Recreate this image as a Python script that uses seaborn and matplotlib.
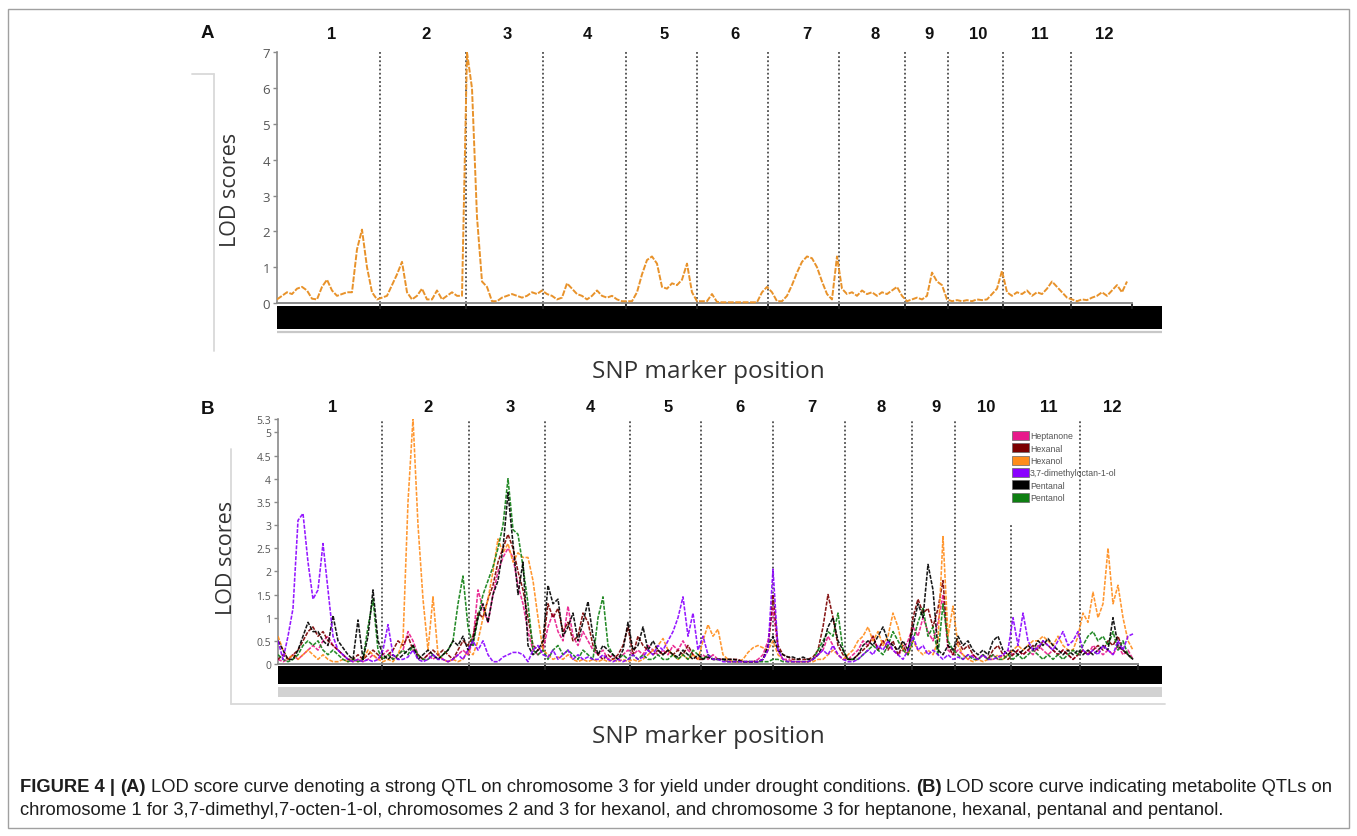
import numpy as np
import pandas as pd
import matplotlib
matplotlib.use("Agg")
import matplotlib.pyplot as plt
import seaborn as sns
from matplotlib import font_manager
from matplotlib.patches import Patch, Rectangle
from matplotlib.lines import Line2D
from matplotlib.transforms import blended_transform_factory

# ------------------------------------------------------------------ data
chromosomes = [str(i) for i in range(1, 13)]

# Panel A: LOD score for yield under drought, one value per marker index
a_bounds = [20.6, 37.8, 53.1, 69.8, 83.9, 98.2, 112.4, 125.6, 134.2, 145.2, 158.8]
a_yield_lod = [
    0.1, 0.2, 0.3, 0.25, 0.4, 0.45, 0.35, 0.12, 0.1, 0.45,
    0.65, 0.35, 0.2, 0.25, 0.3, 0.3, 1.5, 2.05, 1.0, 0.3,
    0.1, 0.15, 0.2, 0.5, 0.8, 1.15, 0.3, 0.1, 0.2, 0.4,
    0.1, 0.1, 0.35, 0.1, 0.2, 0.3, 0.2, 0.2, 7.0, 6.0,
    2.4, 0.6, 0.45, 0.05, 0.05, 0.15, 0.2, 0.25, 0.2, 0.15,
    0.2, 0.3, 0.25, 0.35, 0.25, 0.2, 0.1, 0.15, 0.55, 0.4,
    0.25, 0.2, 0.1, 0.2, 0.35, 0.2, 0.15, 0.2, 0.1, 0.05,
    0.05, 0.05, 0.3, 0.8, 1.2, 1.3, 1.1, 0.45, 0.4, 0.55,
    0.5, 0.65, 1.1, 0.3, 0.05, 0.05, 0.05, 0.25, 0.03, 0.02,
    0.02, 0.02, 0.02, 0.02, 0.02, 0.02, 0.02, 0.3, 0.45, 0.3,
    0.05, 0.05, 0.2, 0.5, 0.85, 1.15, 1.3, 1.25, 1.0, 0.6,
    0.25, 0.1, 1.3, 0.4, 0.25, 0.3, 0.2, 0.35, 0.25, 0.3,
    0.2, 0.3, 0.25, 0.35, 0.45, 0.2, 0.05, 0.1, 0.15, 0.1,
    0.2, 0.85, 0.6, 0.5, 0.1, 0.05, 0.08, 0.05, 0.08, 0.05,
    0.1, 0.08, 0.1, 0.25, 0.4, 0.9, 0.3, 0.2, 0.3, 0.25,
    0.35, 0.2, 0.3, 0.25, 0.4, 0.6, 0.45, 0.3, 0.15, 0.1,
    0.05, 0.1, 0.08, 0.15, 0.2, 0.3, 0.2, 0.35, 0.5, 0.3,
    0.6]
a_yticks = [0, 1, 2, 3, 4, 5, 6, 7]

# Panel B: metabolite LOD scores, one value per marker index
b_bounds = [20.7, 38.1, 53.4, 70.4, 84.6, 99.0, 113.4, 126.8, 135.4, 146.6, 160.4]
b_heptanone = [
    0.1, 0.05, 0.1, 0.2, 0.1, 0.2, 0.3, 0.4, 0.3, 0.5,
    0.6, 0.4, 0.3, 0.2, 0.1, 0.05, 0.1, 0.05, 0.1, 0.2,
    0.1, 0.2, 0.3, 0.1, 0.2, 0.3, 0.7, 0.5, 0.2, 0.1,
    0.2, 0.1, 0.2, 0.1, 0.05, 0.1, 0.2, 0.3, 0.2, 0.5,
    1.6, 1.2, 0.9, 1.5, 2.0, 2.3, 2.5, 2.3, 1.7, 1.3,
    0.7, 0.3, 0.2, 0.3, 0.8, 1.1, 0.7, 0.5, 1.25, 0.6,
    0.4, 0.7, 0.5, 0.3, 0.2, 0.3, 0.1, 0.2, 0.1, 0.2,
    0.3, 0.2, 0.3, 0.2, 0.4, 0.3, 0.2, 0.3, 0.2, 0.4,
    0.3, 0.5, 0.3, 0.2, 0.1, 0.2, 0.1, 0.2, 0.1, 0.1,
    0.05, 0.05, 0.05, 0.05, 0.05, 0.05, 0.1, 0.2, 0.5, 1.2,
    0.3, 0.1, 0.1, 0.05, 0.05, 0.05, 0.05, 0.1, 0.2, 0.3,
    0.6, 0.4, 0.2, 0.1, 0.1, 0.2, 0.3, 0.5, 0.4, 0.6,
    0.3, 0.5, 0.4, 0.3, 0.2, 0.3, 0.5, 0.8, 0.6, 1.0,
    0.7, 0.5, 0.9, 1.5, 0.3, 0.2, 0.3, 0.2, 0.1, 0.2,
    0.1, 0.2, 0.1, 0.2, 0.1, 0.2, 0.3, 0.2, 0.3, 0.2,
    0.3, 0.2, 0.4, 0.3, 0.2, 0.3, 0.2, 0.3, 0.2, 0.1,
    0.2, 0.3, 0.2, 0.4, 0.3, 0.2, 0.3, 0.2, 0.4, 0.2,
    0.3, 0.1]
b_hexanal = [
    0.1, 0.2, 0.1, 0.2, 0.3, 0.5, 0.7, 0.8, 0.6, 0.7,
    0.5, 0.4, 0.3, 0.2, 0.1, 0.1, 0.2, 0.1, 0.2, 0.3,
    0.2, 0.1, 0.2, 0.3, 0.5, 0.4, 0.6, 0.3, 0.2, 0.1,
    0.2, 0.3, 0.2, 0.3, 0.2, 0.1, 0.3, 0.5, 0.4, 0.6,
    1.1, 1.0, 1.4, 1.7, 2.2, 2.5, 2.8, 2.5, 2.0, 1.6,
    1.0, 0.4, 0.3, 0.4, 1.3, 1.0, 1.2, 0.7, 0.9, 0.5,
    0.6, 1.1, 0.9, 0.4, 0.2, 0.1, 0.2, 0.1, 0.2, 0.4,
    0.8, 0.2, 0.6, 0.4, 0.3, 0.2, 0.3, 0.2, 0.3, 0.2,
    0.3, 0.2, 0.4, 0.2, 0.1, 0.1, 0.2, 0.1, 0.1, 0.1,
    0.1, 0.1, 0.1, 0.05, 0.05, 0.05, 0.05, 0.1, 0.3, 1.5,
    0.4, 0.2, 0.15, 0.1, 0.1, 0.1, 0.1, 0.15, 0.3, 0.8,
    1.5, 1.0, 0.4, 0.2, 0.1, 0.1, 0.2, 0.3, 0.4, 0.6,
    0.3, 0.5, 0.3, 0.5, 0.2, 0.4, 0.2, 1.0, 1.4, 1.1,
    1.2, 0.8, 1.2, 1.8, 0.4, 0.2, 0.5, 0.3, 0.4, 0.2,
    0.1, 0.2, 0.1, 0.3, 0.4, 0.2, 0.1, 0.2, 0.3, 0.2,
    0.3, 0.4, 0.3, 0.5, 0.4, 0.3, 0.2, 0.3, 0.2, 0.1,
    0.2, 0.3, 0.2, 0.3, 0.4, 0.3, 0.5, 0.4, 0.6, 0.3,
    0.2, 0.1]
b_hexanol = [
    0.6, 0.3, 0.1, 0.2, 0.1, 0.2, 0.3, 0.2, 0.1, 0.2,
    0.1, 0.05, 0.05, 0.1, 0.05, 0.1, 0.05, 0.1, 0.3, 0.2,
    0.1, 0.05, 0.1, 0.05, 0.2, 0.5, 3.5, 5.3, 3.0, 1.4,
    0.3, 1.45, 0.2, 0.1, 0.05, 0.1, 0.05, 0.1, 0.3, 0.2,
    0.5, 1.0, 1.4, 2.0, 2.7, 2.4, 2.6, 2.2, 2.4, 2.3,
    2.3, 1.8, 1.0, 0.3, 0.2, 0.1, 0.15, 0.1, 0.2, 0.1,
    0.05, 0.1, 0.05, 0.1, 0.05, 0.1, 0.05, 0.1, 0.05, 0.1,
    0.05, 0.1, 0.05, 0.1, 0.2, 0.3, 0.4, 0.55, 0.3, 0.2,
    0.1, 0.2, 0.1, 0.2, 0.1, 0.5, 0.85, 0.6, 0.75, 0.2,
    0.1, 0.05, 0.05, 0.1, 0.25, 0.35, 0.4, 0.35, 0.3, 0.5,
    0.2, 0.1, 0.05, 0.05, 0.05, 0.05, 0.05, 0.05, 0.1, 0.1,
    0.2, 0.3, 0.2, 0.1, 0.2, 0.3, 0.5, 0.6, 0.8, 0.5,
    0.7, 0.4, 0.6, 1.1, 0.8, 0.3, 0.2, 0.5, 0.3, 0.2,
    0.3, 0.2, 0.5, 2.75, 0.6, 1.25, 0.4, 0.2, 0.1, 0.05,
    0.1, 0.05, 0.1, 0.1, 0.2, 0.1, 0.2, 0.3, 0.4, 0.3,
    0.4, 0.5, 0.5, 0.6, 0.5, 0.4, 0.6, 0.4, 0.3, 0.3,
    0.6, 1.1, 0.9, 1.55, 1.0, 1.3, 2.5, 1.3, 1.7, 1.0,
    0.5, 0.3]
b_dimethyloctenol = [
    0.5, 0.1, 0.6, 1.2, 3.1, 3.25, 2.2, 1.4, 1.6, 2.6,
    1.6, 0.6, 0.3, 0.2, 0.1, 0.05, 0.1, 0.05, 0.1, 0.05,
    0.1, 0.3, 0.85, 0.2, 0.1, 0.1, 0.15, 0.3, 0.1, 0.05,
    0.1, 0.2, 0.1, 0.1, 0.05, 0.1, 0.2, 0.1, 0.3, 0.5,
    0.3, 0.5, 0.2, 0.05, 0.05, 0.15, 0.2, 0.25, 0.25, 0.2,
    0.05, 0.3, 0.4, 0.2, 0.15, 0.3, 0.1, 0.2, 0.3, 0.1,
    0.2, 0.1, 0.15, 0.1, 0.1, 0.2, 0.1, 0.05, 0.1, 0.05,
    0.1, 0.2, 0.1, 0.15, 0.3, 0.2, 0.4, 0.3, 0.5, 0.7,
    1.0, 1.45, 0.6, 1.1, 0.3, 0.6, 0.2, 0.1, 0.1, 0.05,
    0.05, 0.05, 0.05, 0.05, 0.05, 0.05, 0.05, 0.1, 0.3, 2.05,
    0.3, 0.1, 0.05, 0.05, 0.05, 0.05, 0.05, 0.1, 0.2, 0.3,
    0.2, 0.4, 0.2, 0.1, 0.05, 0.05, 0.1, 0.2, 0.3, 0.2,
    0.4, 0.3, 0.5, 0.3, 0.2, 0.1, 0.3, 0.6, 0.3, 0.4,
    0.2, 0.3, 0.2, 0.1, 0.2, 0.1, 0.15, 0.1, 0.2, 0.15,
    0.1, 0.2, 0.1, 0.1, 0.15, 0.2, 0.3, 1.0, 0.4, 1.1,
    0.5, 0.3, 0.35, 0.5, 0.4, 0.3, 0.5, 0.7, 0.4, 0.5,
    0.7, 0.3, 0.2, 0.3, 0.2, 0.4, 0.3, 0.2, 0.5, 0.3,
    0.6, 0.65]
b_pentanal = [
    0.5, 0.3, 0.1, 0.1, 0.3, 0.6, 0.9, 0.7, 0.7, 0.5,
    0.4, 1.05, 0.5, 0.35, 0.2, 0.1, 0.95, 0.1, 0.6, 1.6,
    0.5, 0.2, 0.1, 0.2, 0.1, 0.2, 0.3, 0.4, 0.1, 0.2,
    0.3, 0.2, 0.1, 0.2, 0.3, 0.5, 0.4, 0.6, 0.3, 0.5,
    1.0, 1.3, 0.9, 1.5, 1.8, 2.5, 3.7, 2.6, 1.5, 2.2,
    0.4, 0.2, 0.3, 0.5, 1.7, 1.3, 1.4, 0.6, 0.8, 1.1,
    0.5, 0.9, 1.35, 0.6, 0.2, 0.4, 0.3, 0.2, 0.1, 0.3,
    0.9, 0.3, 0.4, 0.8, 0.3, 0.5, 0.3, 0.2, 0.3, 0.2,
    0.15, 0.3, 0.2, 0.1, 0.2, 0.1, 0.15, 0.1, 0.1, 0.1,
    0.1, 0.1, 0.08, 0.05, 0.05, 0.05, 0.05, 0.1, 0.4, 0.6,
    0.3, 0.2, 0.15, 0.15, 0.1, 0.15, 0.1, 0.1, 0.2, 0.4,
    0.8, 1.0, 0.5, 0.3, 0.1, 0.1, 0.2, 0.4, 0.5, 0.4,
    0.6, 0.8, 0.5, 0.4, 0.3, 0.5, 0.3, 0.8, 1.3, 1.0,
    2.15, 1.6, 0.3, 0.2, 0.4, 0.3, 0.6, 0.4, 0.5, 0.3,
    0.2, 0.3, 0.2, 0.5, 0.6, 0.3, 0.2, 0.3, 0.2, 0.3,
    0.4, 0.3, 0.5, 0.4, 0.55, 0.4, 0.3, 0.2, 0.3, 0.2,
    0.3, 0.2, 0.3, 0.2, 0.3, 0.4, 0.3, 1.0, 0.4, 0.3,
    0.2, 0.1]
b_pentanol = [
    0.2, 0.1, 0.05, 0.1, 0.2, 0.4, 0.5, 0.4, 0.5, 0.3,
    0.2, 0.3, 0.2, 0.1, 0.05, 0.1, 0.05, 0.1, 0.8, 1.4,
    0.3, 0.1, 0.2, 0.1, 0.2, 0.3, 0.2, 0.4, 0.2, 0.1,
    0.1, 0.2, 0.1, 0.2, 0.3, 0.5, 1.3, 1.9, 0.8, 0.4,
    1.0, 1.5, 1.8, 2.1, 2.5, 3.0, 4.0, 2.9, 2.8, 2.1,
    1.3, 0.3, 0.2, 0.3, 0.1, 0.3, 0.4, 0.2, 0.3, 0.2,
    0.1, 0.3, 0.2, 0.1, 1.0, 1.45, 0.4, 0.2, 0.1, 0.2,
    0.1, 0.2, 0.1, 0.2, 0.1, 0.1, 0.2, 0.1, 0.1, 0.2,
    0.1, 0.2, 0.1, 0.3, 0.2, 0.1, 0.2, 0.1, 0.1, 0.1,
    0.05, 0.05, 0.05, 0.05, 0.05, 0.05, 0.05, 0.05, 0.05, 0.1,
    0.1, 0.05, 0.05, 0.05, 0.05, 0.05, 0.05, 0.1, 0.3, 0.5,
    0.7, 0.6, 1.1, 0.3, 0.1, 0.1, 0.1, 0.2, 0.3, 0.4,
    0.3, 0.2, 0.4, 0.7, 0.5, 0.3, 0.2, 0.5, 0.9, 1.2,
    0.6, 0.8, 0.2, 1.3, 0.5, 0.3, 0.2, 0.1, 0.2, 0.1,
    0.1, 0.2, 0.1, 0.2, 0.1, 0.1, 0.2, 0.1, 0.2, 0.1,
    0.2, 0.3, 0.2, 0.1, 0.2, 0.1, 0.2, 0.1, 0.2, 0.3,
    0.2, 0.4, 0.6, 0.7, 0.5, 0.6, 0.4, 0.7, 0.3, 0.5,
    0.2, 0.1]
b_yticks = [0, 0.5, 1, 1.5, 2, 2.5, 3, 3.5, 4, 4.5, 5, 5.3]
b_yticklabels = ["0", "0.5", "1", "1.5", "2", "2.5", "3", "3.5", "4", "4.5", "5", "5.3"]

metabolites = ["Heptanone", "Hexanal", "Hexanol", "3,7-dimethyloctan-1-ol",
               "Pentanal", "Pentanol"]
b_series = [b_heptanone, b_hexanal, b_hexanol, b_dimethyloctenol, b_pentanal, b_pentanol]
palette = {"Heptanone": "#E8198B", "Hexanal": "#7B0000", "Hexanol": "#FF8C1A",
           "3,7-dimethyloctan-1-ol": "#8A00FF", "Pentanal": "#000000",
           "Pentanol": "#0E7F12"}
draw_order = ["Heptanone", "Hexanal", "Hexanol", "Pentanol", "Pentanal",
              "3,7-dimethyloctan-1-ol"]

caption_line1 = [("FIGURE 4 |", "bold"), ("(A)", "bold"),
                 ("LOD score curve denoting a strong QTL on chromosome 3 for yield under drought conditions.", "normal"),
                 ("(B)", "bold"),
                 ("LOD score curve indicating metabolite QTLs on", "normal")]
caption_line2 = [("chromosome 1 for 3,7-dimethyl,7-octen-1-ol, chromosomes 2 and 3 for hexanol, "
                  "and chromosome 3 for heptanone, hexanal, pentanal and pentanol.", "normal")]

# ------------------------------------------------------------------ style
sns.set_style("white")
avail = {f.name for f in font_manager.fontManager.ttflist}
cap_family = "Liberation Sans Narrow" if "Liberation Sans Narrow" in avail else "Liberation Sans"
label_family = "Open Sans" if "Open Sans" in avail else "DejaVu Sans"
plt.rcParams["font.family"] = ["Liberation Sans", "DejaVu Sans"]

W, H = 1357, 837
fig = plt.figure(figsize=(W / 100, H / 100), dpi=100)
fig.patch.set_facecolor("white")


def fx(px):
    return px / W


def fy(py):
    return 1 - py / H


def setup_panel(ax, bounds, n, xmax, ymin, ymax, yticks, yticklabels, tick_fs,
                label_y, divider_tops, label_shift):
    ax.set_xlim(0, xmax)
    ax.set_ylim(ymin, ymax)
    ax.set_facecolor("none")
    xend = n
    for s in ["top", "right"]:
        ax.spines[s].set_visible(False)
    ax.spines["bottom"].set_position(("data", 0))
    ax.spines["bottom"].set_bounds(0, xend)
    ax.spines["bottom"].set_color("#8a8a8a")
    ax.spines["bottom"].set_linewidth(1.4)
    ax.spines["left"].set_bounds(0, ymax)
    ax.spines["left"].set_color("#8a8a8a")
    ax.spines["left"].set_linewidth(1.2)
    ax.set_xticks(list(bounds) + [xend])
    ax.tick_params(axis="x", direction="out", length=4, width=1.3,
                   color="#222222", labelbottom=False, bottom=True)
    ax.set_yticks(yticks)
    ax.set_yticklabels(yticklabels)
    ax.tick_params(axis="y", direction="out", length=3, width=1.0,
                   color="#8a8a8a", labelsize=tick_fs, labelcolor="#555555", pad=2,
                   left=True)
    for lab in ax.get_yticklabels():
        lab.set_family(label_family)
    ax.vlines(bounds, 0, divider_tops, colors="#4d4d4d",
              linestyles=(0, (1, 1.3)), linewidth=1.3, zorder=1)
    edges = [0] + list(bounds) + [xend]
    trans = blended_transform_factory(ax.transData, ax.transAxes)
    for i, ch in enumerate(chromosomes):
        mid = (edges[i] + edges[i + 1]) / 2 + label_shift
        ax.text(mid, label_y, ch, transform=trans, ha="center", va="center",
                fontsize=12, fontweight="bold", color="#111111", clip_on=False)
    ax.set_xlabel("")
    ax.set_ylabel("")


# ------------------------------------------------------------------ panel A
a_top, a_bot = 53.4, 336.2
ax_a = fig.add_axes([fx(277), fy(a_bot), fx(1162) - fx(277), (a_bot - a_top) / H])
pos_a = np.arange(len(a_yield_lod))
a_xmax = (1162 - 277) / 5.0
a_ymin = -(a_bot - 304) / ((304 - a_top) / 7)
ax_a.fill_between([0, a_xmax], -0.72, -0.07, color="black", lw=0, zorder=0)
ax_a.axhline(-0.8, color="#c8c8c8", lw=1.6, zorder=0)
sns.lineplot(x=pos_a, y=a_yield_lod, ax=ax_a, color="#E8922A", lw=1.4,
             linestyle=(0, (3, 0.8)), zorder=3)
setup_panel(ax_a, a_bounds, len(a_yield_lod), a_xmax, a_ymin, 7, a_yticks,
            [str(t) for t in a_yticks], 9.5, 1 + (a_top - 35) / (a_bot - a_top),
            [7] * len(a_bounds), 0.6)

# ------------------------------------------------------------------ panel B
b_top, b_bot = 419.5, 706.7
ax_b = fig.add_axes([fx(278), fy(b_bot), fx(1162) - fx(278), (b_bot - b_top) / H])
pos_b = np.arange(len(b_pentanal))
b_xmax = (1162 - 278) / 5.0
b_ymin = -(b_bot - 665) / ((665 - b_top) / 5.3)
ax_b.fill_between([0, b_xmax], -0.43, -0.04, color="black", lw=0, zorder=0)
ax_b.fill_between([0, b_xmax], -0.72, -0.5, color="#d2d2d2", lw=0, zorder=0)

df_b = pd.DataFrame({name: vals for name, vals in zip(metabolites, b_series)})
df_b["marker"] = pos_b
long_b = df_b.melt(id_vars="marker", var_name="metabolite", value_name="LOD")
for k, name in enumerate(draw_order):
    sub = long_b[long_b["metabolite"] == name]
    sns.lineplot(data=sub, x="marker", y="LOD", ax=ax_b, color=palette[name],
                 lw=1.15, linestyle=(0, (2.5, 0.9)), alpha=0.9, zorder=3 + k)

b_div_tops = [5.3] * len(b_bounds)
b_div_tops[9] = 3.05
setup_panel(ax_b, b_bounds, len(b_pentanal), b_xmax, b_ymin, 5.3, b_yticks,
            b_yticklabels, 7.5, 1 + (b_top - 407) / (b_bot - b_top), b_div_tops, 0.6)

handles = [Patch(facecolor=palette[m], edgecolor="#666666", lw=0.5) for m in metabolites]
leg = ax_b.legend(handles, metabolites, loc="upper left",
                  bbox_to_anchor=(fx(1012), fy(432)), bbox_transform=fig.transFigure,
                  frameon=False, fontsize=6.3, handlelength=1.9, handleheight=1.2,
                  handletextpad=0.15, labelspacing=0.33, borderpad=0,
                  borderaxespad=0)
for t in leg.get_texts():
    t.set_color("#555555")

# ------------------------------------------------------------------ labels
for (yx, yy), (xx, xy) in [((230, 190), (708, 372)), ((227, 558), (708, 737))]:
    fig.text(fx(yx), fy(yy), "LOD scores", rotation=90, ha="center", va="center",
             fontsize=15.5, color="#333333", family=label_family)
    fig.text(fx(xx), fy(xy), "SNP marker position", ha="center", va="center",
             fontsize=17.5, color="#333333", family=label_family)

fig.text(fx(207), fy(33), "A", ha="center", va="center", fontsize=13.5,
         fontweight="bold", color="#111111")
fig.text(fx(207), fy(410), "B", ha="center", va="center", fontsize=13.5,
         fontweight="bold", color="#111111")

# faint frames left by the original image export
frame_col = "#d9d9d9"
for xs, ys in [((192, 214), (75, 75)), ((214, 214), (75, 352)),
               ((231, 231), (450, 705)), ((231, 1165), (705, 705))]:
    fig.add_artist(Line2D([fx(xs[0]), fx(xs[1])], [fy(ys[0]), fy(ys[1])],
                          transform=fig.transFigure, color=frame_col, lw=1.3))

# outer border
fig.add_artist(Rectangle((fx(8), fy(829)), fx(1349) - fx(8), (829 - 10) / H,
                         transform=fig.transFigure, fill=False,
                         edgecolor="#a0a0a0", lw=1.0))

# ------------------------------------------------------------------ caption
renderer = fig.canvas.get_renderer()


def text_width(s, size, weight):
    t = fig.text(0, 0, s, fontsize=size, fontweight=weight, family=cap_family)
    w = t.get_window_extent(renderer).width
    t.remove()
    return w


def draw_line(segs, x0_px, base_px, size):
    space = text_width("a a", size, "normal") - text_width("aa", size, "normal")
    x = x0_px
    for s, wgt in segs:
        fig.text(fx(x), fy(base_px), s, fontsize=size, fontweight=wgt,
                 family=cap_family, ha="left", va="baseline", color="#1e1e1e")
        x += text_width(s, size, wgt) + space
    return x


def line_width(segs, size):
    space = text_width("a a", size, "normal") - text_width("aa", size, "normal")
    return sum(text_width(s, size, w) for s, w in segs) + space * (len(segs) - 1)


base_size = 12.0
cap_size = base_size * (1336 - 20) / line_width(caption_line1, base_size)
draw_line(caption_line1, 20, 792, cap_size)
draw_line(caption_line2, 20, 815, cap_size)

fig.savefig("out.png", dpi=100, facecolor="white")
